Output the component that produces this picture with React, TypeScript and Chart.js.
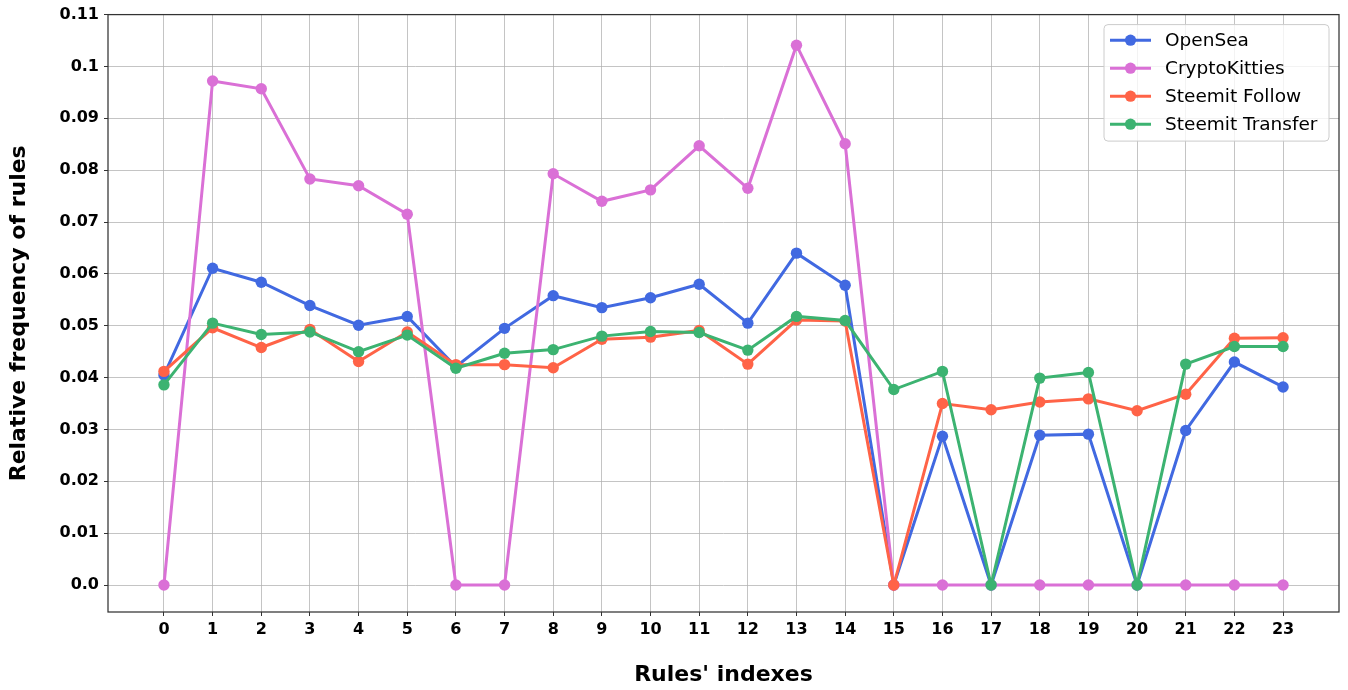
import React, { useEffect, useRef } from "react";
import { Chart, registerables } from "chart.js";

Chart.register(...registerables);

const CATEGORIES = [0, 1, 2, 3, 4, 5, 6, 7, 8, 9, 10, 11, 12, 13, 14, 15, 16, 17, 18, 19, 20, 21, 22, 23];
const X_TICKS = CATEGORIES;
const Y_TICKS = [0, 0.01, 0.02, 0.03, 0.04, 0.05, 0.06, 0.07, 0.08, 0.09, 0.1, 0.11];

const SERIES_NAMES = ["OpenSea", "CryptoKitties", "Steemit Follow", "Steemit Transfer"];

const OPENSEA = [0.0405, 0.0611, 0.0584, 0.0539, 0.0501, 0.0518, 0.0421, 0.0495, 0.0558, 0.0535, 0.0554, 0.058, 0.0505, 0.064, 0.0578, 0, 0.0287, 0, 0.0289, 0.0291, 0, 0.0298, 0.043, 0.0382];
const CRYPTOKITTIES = [0, 0.0972, 0.0957, 0.0783, 0.077, 0.0715, 0, 0, 0.0793, 0.074, 0.0762, 0.0847, 0.0765, 0.1041, 0.0851, 0, 0, 0, 0, 0, 0, 0, 0, 0];
const STEEMIT_FOLLOW = [0.0412, 0.0496, 0.0458, 0.0493, 0.0431, 0.0488, 0.0425, 0.0425, 0.0419, 0.0474, 0.0478, 0.0491, 0.0426, 0.0511, 0.0509, 0, 0.035, 0.0338, 0.0353, 0.0359, 0.0336, 0.0368, 0.0476, 0.0477];
const STEEMIT_TRANSFER = [0.0386, 0.0505, 0.0483, 0.0488, 0.045, 0.0482, 0.0418, 0.0447, 0.0454, 0.048, 0.0489, 0.0487, 0.0453, 0.0518, 0.051, 0.0377, 0.0412, 0, 0.0399, 0.041, 0, 0.0426, 0.046, 0.046];

const SERIES_VALUES = [OPENSEA, CRYPTOKITTIES, STEEMIT_FOLLOW, STEEMIT_TRANSFER];
const COLORS = ["#4169E1", "#DA70D6", "#FF6347", "#3CB371"];

const FONT = '"DejaVu Sans", "Liberation Sans", sans-serif';

const framePlugin = {
  id: "frameAndLegend",
  afterDraw(chart: any) {
    const { ctx, chartArea: a } = chart;
    ctx.save();
    // spines
    ctx.strokeStyle = "#333333";
    ctx.lineWidth = 1.25;
    ctx.strokeRect(a.left, a.top, a.right - a.left, a.bottom - a.top);

    // legend
    const w = 225;
    const h = 116.5;
    const lx = a.right - 10 - w;
    const ly = a.top + 10;
    ctx.beginPath();
    ctx.roundRect(lx, ly, w, h, 4);
    ctx.fillStyle = "rgba(255,255,255,0.8)";
    ctx.fill();
    ctx.strokeStyle = "#cccccc";
    ctx.lineWidth = 1;
    ctx.stroke();

    ctx.font = `18.5px ${FONT}`;
    ctx.textBaseline = "middle";
    ctx.textAlign = "left";
    SERIES_NAMES.forEach((name, i) => {
      const cy = ly + 15.6 + i * 28;
      ctx.strokeStyle = COLORS[i];
      ctx.lineWidth = 3;
      ctx.beginPath();
      ctx.moveTo(lx + 6, cy);
      ctx.lineTo(lx + 47, cy);
      ctx.stroke();
      ctx.fillStyle = COLORS[i];
      ctx.beginPath();
      ctx.arc(lx + 26.5, cy, 5.6, 0, Math.PI * 2);
      ctx.fill();
      ctx.fillStyle = "#000000";
      ctx.fillText(name, lx + 61, cy + 1);
    });
    ctx.restore();
  },
};

export default function App() {
  const canvasRef = useRef<HTMLCanvasElement | null>(null);

  useEffect(() => {
    if (!canvasRef.current) return;
    const datasets = SERIES_NAMES.map((name, i) => ({
      label: name,
      data: SERIES_VALUES[i].map((v, j) => ({ x: CATEGORIES[j], y: v })),
      borderColor: COLORS[i],
      backgroundColor: COLORS[i],
      borderWidth: 3,
      pointRadius: 5.7,
      pointHoverRadius: 5.7,
      pointBorderWidth: 0,
      pointBackgroundColor: COLORS[i],
      tension: 0,
      fill: false,
      order: SERIES_NAMES.length - i,
    }));

    const chart = new Chart(canvasRef.current, {
      type: "line",
      data: { datasets },
      options: {
        animation: false,
        responsive: false,
        devicePixelRatio: 1,
        layout: { padding: { top: 13, right: 9, left: 0, bottom: 0 } },
        plugins: {
          legend: { display: false },
          tooltip: { enabled: false },
        },
        scales: {
          x: {
            type: "linear",
            min: -1.15,
            max: 24.15,
            afterFit(scale: any) {
              scale.height = 78;
            },
            afterBuildTicks(scale: any) {
              scale.ticks = X_TICKS.map((v) => ({ value: v }));
            },
            ticks: {
              autoSkip: false,
              maxRotation: 0,
              padding: 4,
              color: "#000000",
              font: { family: FONT, size: 16, weight: "bold" },
              callback: (v: any) => String(v),
            },
            grid: {
              color: "rgba(176,176,176,0.75)",
              lineWidth: 1,
              tickColor: "#333333",
              tickLength: 4,
              tickWidth: 1,
            },
            border: { display: false },
            title: {
              display: true,
              text: "Rules' indexes",
              color: "#000000",
              font: { family: FONT, size: 22, weight: "bold" },
              padding: { top: 0, bottom: 2 },
            },
          },
          y: {
            type: "linear",
            min: -0.0052,
            max: 0.11,
            afterFit(scale: any) {
              scale.width = 108;
            },
            afterBuildTicks(scale: any) {
              scale.ticks = Y_TICKS.map((v) => ({ value: v }));
            },
            ticks: {
              autoSkip: false,
              padding: 5,
              color: "#000000",
              font: { family: FONT, size: 16, weight: "bold" },
              callback: (v: any) => (v === 0 ? "0.0" : String(Number(Number(v).toFixed(4)))),
            },
            grid: {
              color: "rgba(176,176,176,0.75)",
              lineWidth: 1,
              tickColor: "#333333",
              tickLength: 4,
              tickWidth: 1,
            },
            border: { display: false },
            title: {
              display: true,
              text: "Relative frequency of rules",
              color: "#000000",
              font: { family: FONT, size: 22, weight: "bold" },
              padding: { top: 6, bottom: 0 },
            },
          },
        },
      },
      plugins: [framePlugin],
    });

    return () => chart.destroy();
  }, []);

  return (
    <div style={{ position: "absolute", left: 0, top: 0, width: 1348, height: 690, background: "#ffffff" }}>
      <canvas ref={canvasRef} width={1348} height={690} style={{ display: "block", width: 1348, height: 690 }} />
    </div>
  );
}
